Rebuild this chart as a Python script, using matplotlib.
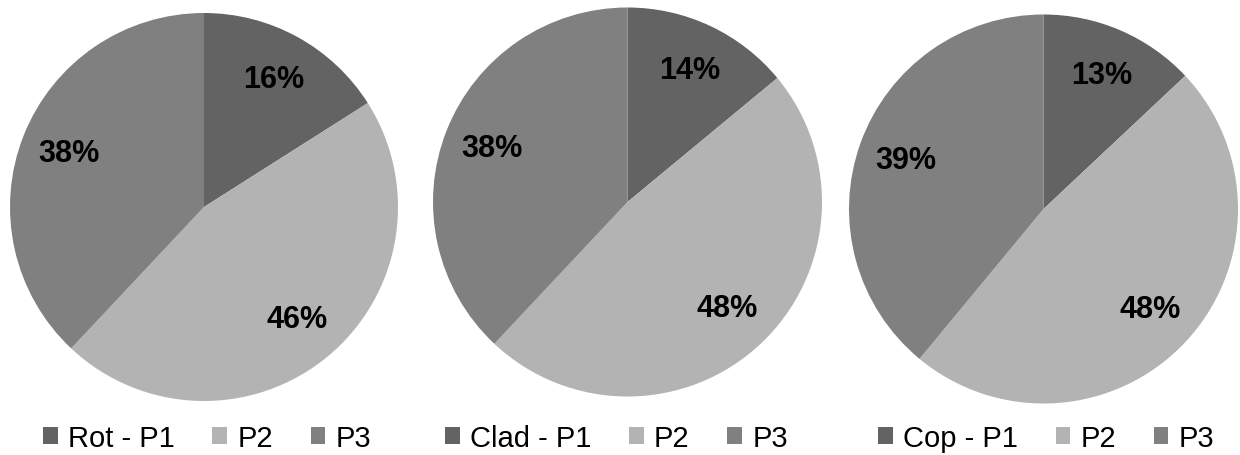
import matplotlib
matplotlib.use('Agg')
import matplotlib.pyplot as plt

plt.rcParams['font.family'] = ['Liberation Sans', 'DejaVu Sans']

W, H = 1240, 456

# data
groups = ['Rot', 'Clad', 'Cop']
parts = ['P1', 'P2', 'P3']
rot = [16, 46, 38]
clad = [14, 48, 38]
cop = [13, 48, 39]
series = [rot, clad, cop]

colors = ['#636363', '#b3b3b3', '#808080']

# pixel layout: (centre x, centre y from top, radius), legend start x
pies = [(204, 208, 194), (627.5, 203, 194.5), (1043.5, 210, 194.5)]
legend_x = [43, 445, 878]
legend_y = 439

fig = plt.figure(figsize=(W / 100, H / 100), dpi=100)

for g, vals, (cx, cy, r), lx in zip(groups, series, pies, legend_x):
    ax = fig.add_axes([(cx - r) / W, (H - cy - r) / H, 2 * r / W, 2 * r / H])
    wedges, texts, autotexts = ax.pie(
        vals, colors=colors, startangle=90, counterclock=False,
        autopct='%1.0f%%', pctdistance=0.75,
        wedgeprops=dict(linewidth=0),
        textprops=dict(fontsize=22, fontweight='bold', color='black'))
    ax.set_xlim(-1, 1)
    ax.set_ylim(-1, 1)
    ax.axis('off')

    labels = [g + ' - ' + parts[0]] + parts[1:]
    fig.legend(wedges, labels, loc='center left',
               bbox_to_anchor=(lx / W, (H - legend_y) / H),
               bbox_transform=fig.transFigure, ncol=3, frameon=False,
               fontsize=21, handlelength=0.5, handleheight=0.5,
               handletextpad=0.35, columnspacing=1.3, borderpad=0,
               borderaxespad=0)

fig.savefig('out.png', dpi=100, facecolor='white')
